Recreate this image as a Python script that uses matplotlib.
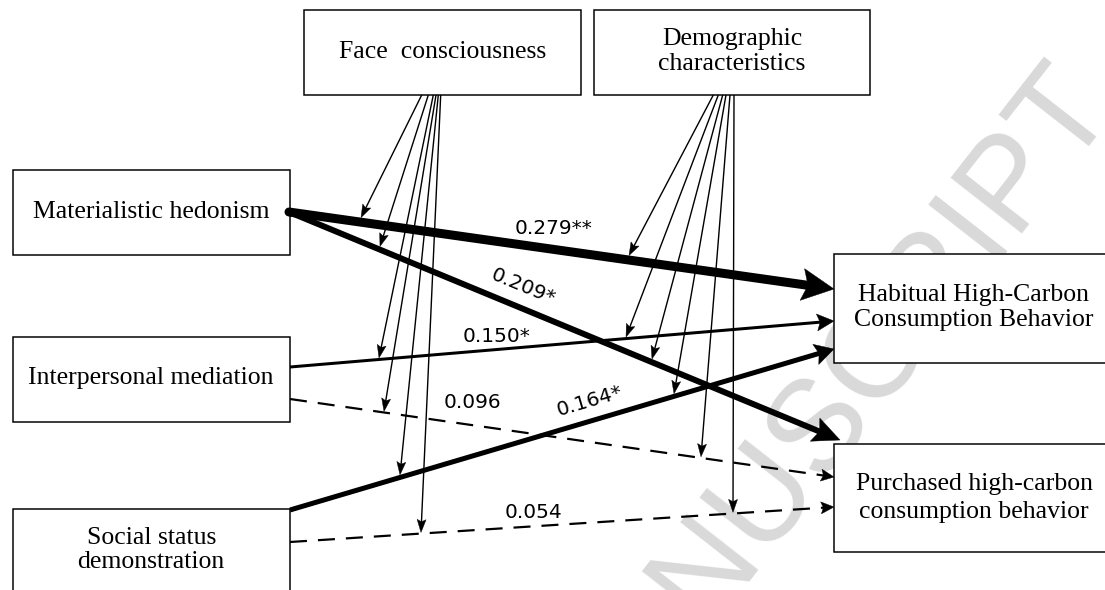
import numpy as np
import matplotlib
matplotlib.use("Agg")
import matplotlib.pyplot as plt
from matplotlib.patches import Rectangle, Polygon

# ---------------- data ----------------
predictors = ["Materialistic hedonism", "Interpersonal mediation", "Social status\ndemonstration"]
outcomes = ["Habitual High-Carbon\nConsumption Behavior", "Purchased high-carbon\nconsumption behavior"]
moderators = ["Face  consciousness", "Demographic\ncharacteristics"]
coef_habitual = [0.279, 0.150, 0.164]
coef_purchased = [0.209, 0.096, 0.054]
stars_habitual = ["**", "*", "*"]
stars_purchased = ["*", "", ""]
watermark = "ACCEPTED MANUSCRIPT"

# ---------------- layout (pixel units, y downwards) ----------------
W, H = 1105, 590
pred_boxes = [(12.5, 170, 290, 255), (12.5, 337, 290, 422), (12.5, 509, 290, 640)]
pred_text_y = [212, 378, 550]
out_boxes = [(834, 254, 1130, 363), (834, 444, 1130, 552)]
out_text_xy = [(974, 307.5), (974, 498)]
out_linespacing = [1.15, 1.38]
mod_boxes = [(304, 10, 581, 95), (594, 10, 870, 95)]
mod_text_y = [52, 51.5]

hab_start = [(289, 212), (290, 367), (290, 510)]
hab_tip = [(834, 289), (834, 321), (834, 349)]
pur_start = [(289, 212), (290, 399), (290, 542)]
pur_tip = [(840, 440), (834, 477), (834, 507)]
hab_style = [dict(lw=9, hl=32, hw=32, round_start=True), dict(lw=3, hl=17, hw=17),
             dict(lw=5, hl=19, hw=21)]
pur_style = [dict(lw=6, hl=27, hw=25, round_start=True), dict(lw=2.2, hl=13, hw=12, dashed=True),
             dict(lw=2.2, hl=13, hw=12, dashed=True)]
hab_label = [(554, 228, False), (497, 337, False), (590, 401, True)]
pur_label = [(523, 287, True), (472, 403, False), (534, 512, False)]

face_src_x = [421.7, 428.3, 433.3, 436.0, 438.3, 440.7]
face_tgt = [("hab", 0, 361), ("pur", 0, 380), ("hab", 1, 379), ("pur", 1, 384),
            ("hab", 2, 400), ("pur", 2, 421)]
demo_src_x = [713.3, 718.3, 722.7, 726.0, 730.0, 734.0]
demo_tgt = [("hab", 0, 629), ("hab", 1, 626), ("pur", 0, 652), ("hab", 2, 674),
            ("pur", 1, 701), ("pur", 2, 733)]

PX = 0.72  # points per pixel at dpi=100
plt.rcParams["lines.scale_dashes"] = False

fig = plt.figure(figsize=(W / 100, H / 100), dpi=100)
ax = fig.add_axes([0, 0, 1, 1])
ax.set_xlim(0, W)
ax.set_ylim(H, 0)
ax.axis("off")


def draw_arrow(p0, p1, lw, hl, hw, dashed=False, round_start=False, z=3):
    p0 = np.asarray(p0, float)
    p1 = np.asarray(p1, float)
    d = p1 - p0
    u = d / np.hypot(*d)
    n = np.array([-u[1], u[0]])
    base = p1 - u * hl
    notch = p1 - u * hl * 0.82
    end = notch + u * 1.0
    ls = (0, (17 * PX, 11 * PX)) if dashed else "-"
    ax.plot([p0[0], end[0]], [p0[1], end[1]], color="k", lw=lw * PX, linestyle=ls,
            solid_capstyle="round" if round_start else "butt", dash_capstyle="butt", zorder=z)
    ax.add_patch(Polygon([p1, base + n * hw / 2, notch, base - n * hw / 2], closed=True,
                         fc="k", ec="k", lw=0.3, zorder=z))


def box(b, z=1):
    x0, y0, x1, y1 = b
    ax.add_patch(Rectangle((x0, y0), x1 - x0, y1 - y0, fc="white", ec="k", lw=1.5 * PX, zorder=z))


# watermark
ax.text(1118, 110, watermark, rotation=52, rotation_mode="anchor", ha="right", va="baseline",
        fontsize=94, color="#d9d9d9", family="Liberation Sans", zorder=0)

serif = dict(family="Liberation Serif", fontsize=18.5, color="k", ha="center", va="center", zorder=5)

for b, t, y in zip(pred_boxes, predictors, pred_text_y):
    box(b)
    ax.text((b[0] + b[2]) / 2, y, t, linespacing=1.12, **serif)
for b, t, (x, y), lsp in zip(out_boxes, outcomes, out_text_xy, out_linespacing):
    box(b)
    ax.text(x, y, t, linespacing=lsp, **serif)
for b, t, y in zip(mod_boxes, moderators, mod_text_y):
    box(b)
    ax.text((b[0] + b[2]) / 2, y, t, linespacing=1.15, **serif)

paths = {"hab": (hab_start, hab_tip, hab_style), "pur": (pur_start, pur_tip, pur_style)}

# main paths with coefficients
for key, coefs, stars, labels in (("hab", coef_habitual, stars_habitual, hab_label),
                                  ("pur", coef_purchased, stars_purchased, pur_label)):
    starts, tips, styles = paths[key]
    for s, t, st, c, sg, (lx, ly, rot) in zip(starts, tips, styles, coefs, stars, labels):
        draw_arrow(s, t, **st)
        ang = np.degrees(np.arctan2(-(t[1] - s[1]), t[0] - s[0])) if rot else 0
        ax.text(lx, ly, f"{c:.3f}{sg}", rotation=ang, rotation_mode="anchor", ha="center",
                va="center", fontsize=14.5, family="DejaVu Sans", color="k", zorder=6)


def point_on(key, i, x):
    starts, tips, styles = paths[key]
    (x0, y0), (x1, y1) = starts[i], tips[i]
    slope = (y1 - y0) / (x1 - x0)
    y = y0 + (x - x0) * slope
    return x, y - styles[i]["lw"] / 2 * np.sqrt(1 + slope ** 2)


# moderating arrows
for srcs, tgts, yb in ((face_src_x, face_tgt, mod_boxes[0][3]), (demo_src_x, demo_tgt, mod_boxes[1][3])):
    for sx, (key, i, tx) in zip(srcs, tgts):
        draw_arrow((sx, yb), point_on(key, i, tx), lw=1.4, hl=13, hw=9, z=4)

fig.savefig("out.png", dpi=100)
